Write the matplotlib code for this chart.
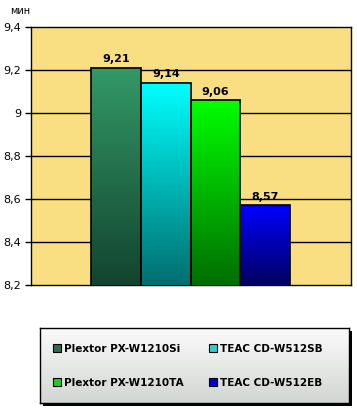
import numpy as np
import matplotlib
matplotlib.use("Agg")
import matplotlib.pyplot as plt
from matplotlib.colors import LinearSegmentedColormap
from matplotlib.patches import Rectangle, Patch

# data
drives = ["Plextor PX-W1210Si", "TEAC CD-W512SB", "Plextor PX-W1210TA", "TEAC CD-W512EB"]
times = [9.21, 9.14, 9.06, 8.57]
yticks = [8.2, 8.4, 8.6, 8.8, 9.0, 9.2, 9.4]
unit = "мин"

# colours (top of bar, bottom of bar, legend swatch)
tops = ["#339966", "#00ffff", "#00ff00", "#0000ff"]
bottoms = ["#124430", "#006e6e", "#006e00", "#00005e"]
swatch = ["#2f6b4d", "#33cccc", "#22cc22", "#0000cc"]

plt.rcParams["font.family"] = "DejaVu Sans"

fig = plt.figure(figsize=(3.57, 4.09), dpi=100)
ax = fig.add_axes([0.0868, 0.3032, 0.8962, 0.6315])
ax.set_facecolor("#f9df82")

x = np.arange(len(times))
ymin, ymax = yticks[0], yticks[-1]

for yt in yticks[1:-1]:
    ax.axhline(yt, color="black", lw=1.0, zorder=1)

bars = ax.bar(x, times, width=1.0, bottom=0, facecolor="none",
              edgecolor="black", linewidth=1.2, zorder=4)

grad = np.linspace(0, 1, 256).reshape(-1, 1)
for i, b in enumerate(bars):
    cmap = LinearSegmentedColormap.from_list("g%d" % i, [bottoms[i], tops[i]])
    ax.imshow(grad, cmap=cmap, origin="lower", aspect="auto",
              extent=[b.get_x(), b.get_x() + b.get_width(), ymin, b.get_height()],
              zorder=3)
    ax.text(b.get_x() + b.get_width() / 2, b.get_height() + 0.015,
            ("%.2f" % times[i]).replace(".", ","), ha="center", va="bottom",
            fontsize=8, fontweight="bold", zorder=5)

ax.set_xlim(-1.71, len(times) - 0.5 + 1.22)
ax.set_ylim(ymin, ymax)
ax.set_xticks([])
ax.set_yticks(yticks)
ax.set_yticklabels([("%g" % v).replace(".", ",") for v in yticks], fontsize=8)
ax.tick_params(axis="y", direction="out", length=4, width=1, pad=3)
for s in ax.spines.values():
    s.set_color("black")
    s.set_linewidth(1.0)

fig.text(0.028, 0.985, unit, fontsize=7, va="top", ha="left")

# legend box with shadow and gradient
lx, ly, lw, lh = 0.112, 0.014, 0.866, 0.184
shadow = Rectangle((lx + 0.008, ly - 0.007), lw, lh, transform=fig.transFigure,
                   facecolor="black", edgecolor="none", zorder=-1)
fig.add_artist(shadow)
lax = fig.add_axes([lx, ly, lw, lh])
lax.set_zorder(2)
lcmap = LinearSegmentedColormap.from_list("leg", ["#d2d6d2", "#fbfbfb"])
lax.imshow(grad, cmap=lcmap, origin="lower", aspect="auto", extent=[0, 1, 0, 1])
lax.set_xlim(0, 1)
lax.set_ylim(0, 1)
lax.set_xticks([])
lax.set_yticks([])
for s in lax.spines.values():
    s.set_color("black")
    s.set_linewidth(1.0)

handles = [Patch(facecolor=swatch[i], edgecolor="black", linewidth=0.8, label=drives[i])
           for i in [0, 2, 1, 3]]
lax.legend(handles=handles, ncol=2, loc="center left", bbox_to_anchor=(0.03, 0.5),
           frameon=False, prop={"size": 7.5, "weight": "bold"},
           handlelength=0.75, handleheight=0.75, handletextpad=0.3,
           columnspacing=2.4, labelspacing=2.3, borderaxespad=0.0)

fig.savefig("out.png", dpi=100)
